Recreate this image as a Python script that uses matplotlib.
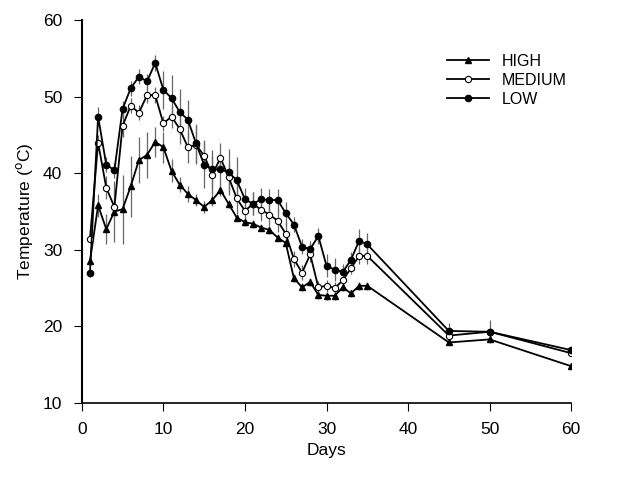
import matplotlib
matplotlib.use("Agg")
import matplotlib.pyplot as plt

# sampling days
days = [1, 2, 3, 4, 5, 6, 7, 8, 9, 10, 11, 12, 13, 14, 15, 16, 17, 18, 19, 20,
        21, 22, 23, 24, 25, 26, 27, 28, 29, 30, 31, 32, 33, 34, 35, 45, 50, 60]

# mean temperatures
high = [28.5, 35.8, 32.7, 35.0, 35.3, 38.3, 41.7, 42.4, 44.1, 43.4, 40.3, 38.5,
        37.3, 36.5, 35.6, 36.5, 37.8, 36.0, 34.2, 33.6, 33.4, 32.9, 32.6, 31.6,
        30.9, 26.3, 25.1, 25.8, 24.1, 24.0, 24.0, 25.1, 24.3, 25.3, 25.3,
        17.9, 18.3, 14.8]
medium = [31.4, 44.0, 38.1, 35.6, 46.2, 48.8, 47.9, 50.2, 50.2, 46.5, 47.4, 45.8,
          43.4, 43.7, 42.3, 39.8, 42.0, 39.5, 36.7, 35.1, 36.0, 35.2, 34.6, 33.8,
          32.1, 28.8, 27.0, 29.4, 25.1, 25.3, 25.0, 26.0, 27.6, 29.2, 29.2,
          18.8, 19.3, 16.5]
low = [27.0, 47.4, 41.1, 40.4, 48.4, 51.1, 52.6, 52.0, 54.4, 50.9, 49.8, 48.0,
       47.0, 43.9, 41.1, 40.5, 40.5, 40.1, 39.1, 36.6, 36.0, 36.6, 36.5, 36.5,
       34.8, 33.3, 30.4, 30.1, 31.8, 27.9, 27.4, 27.1, 28.7, 31.2, 30.7,
       19.4, 19.3, 16.9]

# approximate error bar half-lengths
high_err = [0.5, 1.5, 2.0, 4.0, 4.5, 4.0, 3.0, 3.0, 2.0, 2.0, 1.5, 1.0,
            1.0, 0.8, 0.8, 0.8, 0.8, 0.5, 0.5, 0.5, 0.5, 0.5, 0.5, 0.5,
            0.5, 0.5, 0.5, 0.5, 0.5, 0.5, 0.5, 0.5, 0.5, 0.5, 0.5,
            0.3, 0.3, 0.3]
medium_err = [0.5, 1.0, 1.5, 1.0, 1.5, 1.0, 1.0, 1.0, 1.0, 1.0, 1.5, 2.0,
              2.0, 2.5, 2.0, 2.5, 2.0, 2.0, 2.0, 1.5, 1.5, 1.5, 1.5, 1.5,
              1.5, 1.0, 1.0, 1.0, 0.8, 0.8, 0.8, 0.8, 0.8, 1.0, 1.0,
              0.5, 0.5, 0.5]
low_err = [0.5, 1.2, 1.0, 1.0, 1.0, 1.0, 1.0, 1.0, 1.0, 2.5, 3.0, 3.0,
           2.5, 2.5, 3.0, 2.5, 2.0, 3.0, 3.0, 1.5, 1.5, 1.5, 1.5, 1.5,
           1.5, 1.0, 1.0, 1.0, 1.0, 1.5, 1.5, 1.0, 1.0, 1.5, 1.5,
           1.0, 1.5, 0.5]

plt.rcParams["font.family"] = ["Liberation Sans", "DejaVu Sans"]

fig = plt.figure(figsize=(6.44, 4.78), dpi=100)
ax = fig.add_axes([0.127, 0.157, 0.76, 0.801])

# error bars first, in grey, then the lines on top
for y, e in [(high, high_err), (medium, medium_err), (low, low_err)]:
    ax.errorbar(days, y, yerr=e, fmt="none", ecolor="#666666", elinewidth=0.9, capsize=0)

ax.plot(days, high, color="black", lw=1.3, marker="^", ms=4, mfc="black", label="HIGH")
ax.plot(days, medium, color="black", lw=1.3, marker="o", ms=4.5, mfc="white", mew=0.8, label="MEDIUM")
ax.plot(days, low, color="black", lw=1.3, marker="o", ms=4.5, mfc="black", label="LOW")

ax.set_xlim(0, 60)
ax.set_ylim(10, 60)
ax.set_xticks(range(0, 61, 10))
ax.set_yticks(range(10, 61, 10))
ax.spines["top"].set_visible(False)
ax.spines["right"].set_visible(False)
ax.spines["left"].set_linewidth(1.5)
ax.spines["bottom"].set_linewidth(1.2)
ax.tick_params(direction="out", length=6, width=0.8, labelsize=12.5, pad=8)

ax.set_xlabel("Days", fontsize=12.5)
ax.set_ylabel("Temperature ($^{\\rm o}$C)", fontsize=12.5, labelpad=6)

ax.legend(loc="upper right", bbox_to_anchor=(1.02, 0.95), frameon=False, fontsize=11.5,
          handlelength=2.6, labelspacing=0.25)

fig.savefig("out.png", dpi=100)
